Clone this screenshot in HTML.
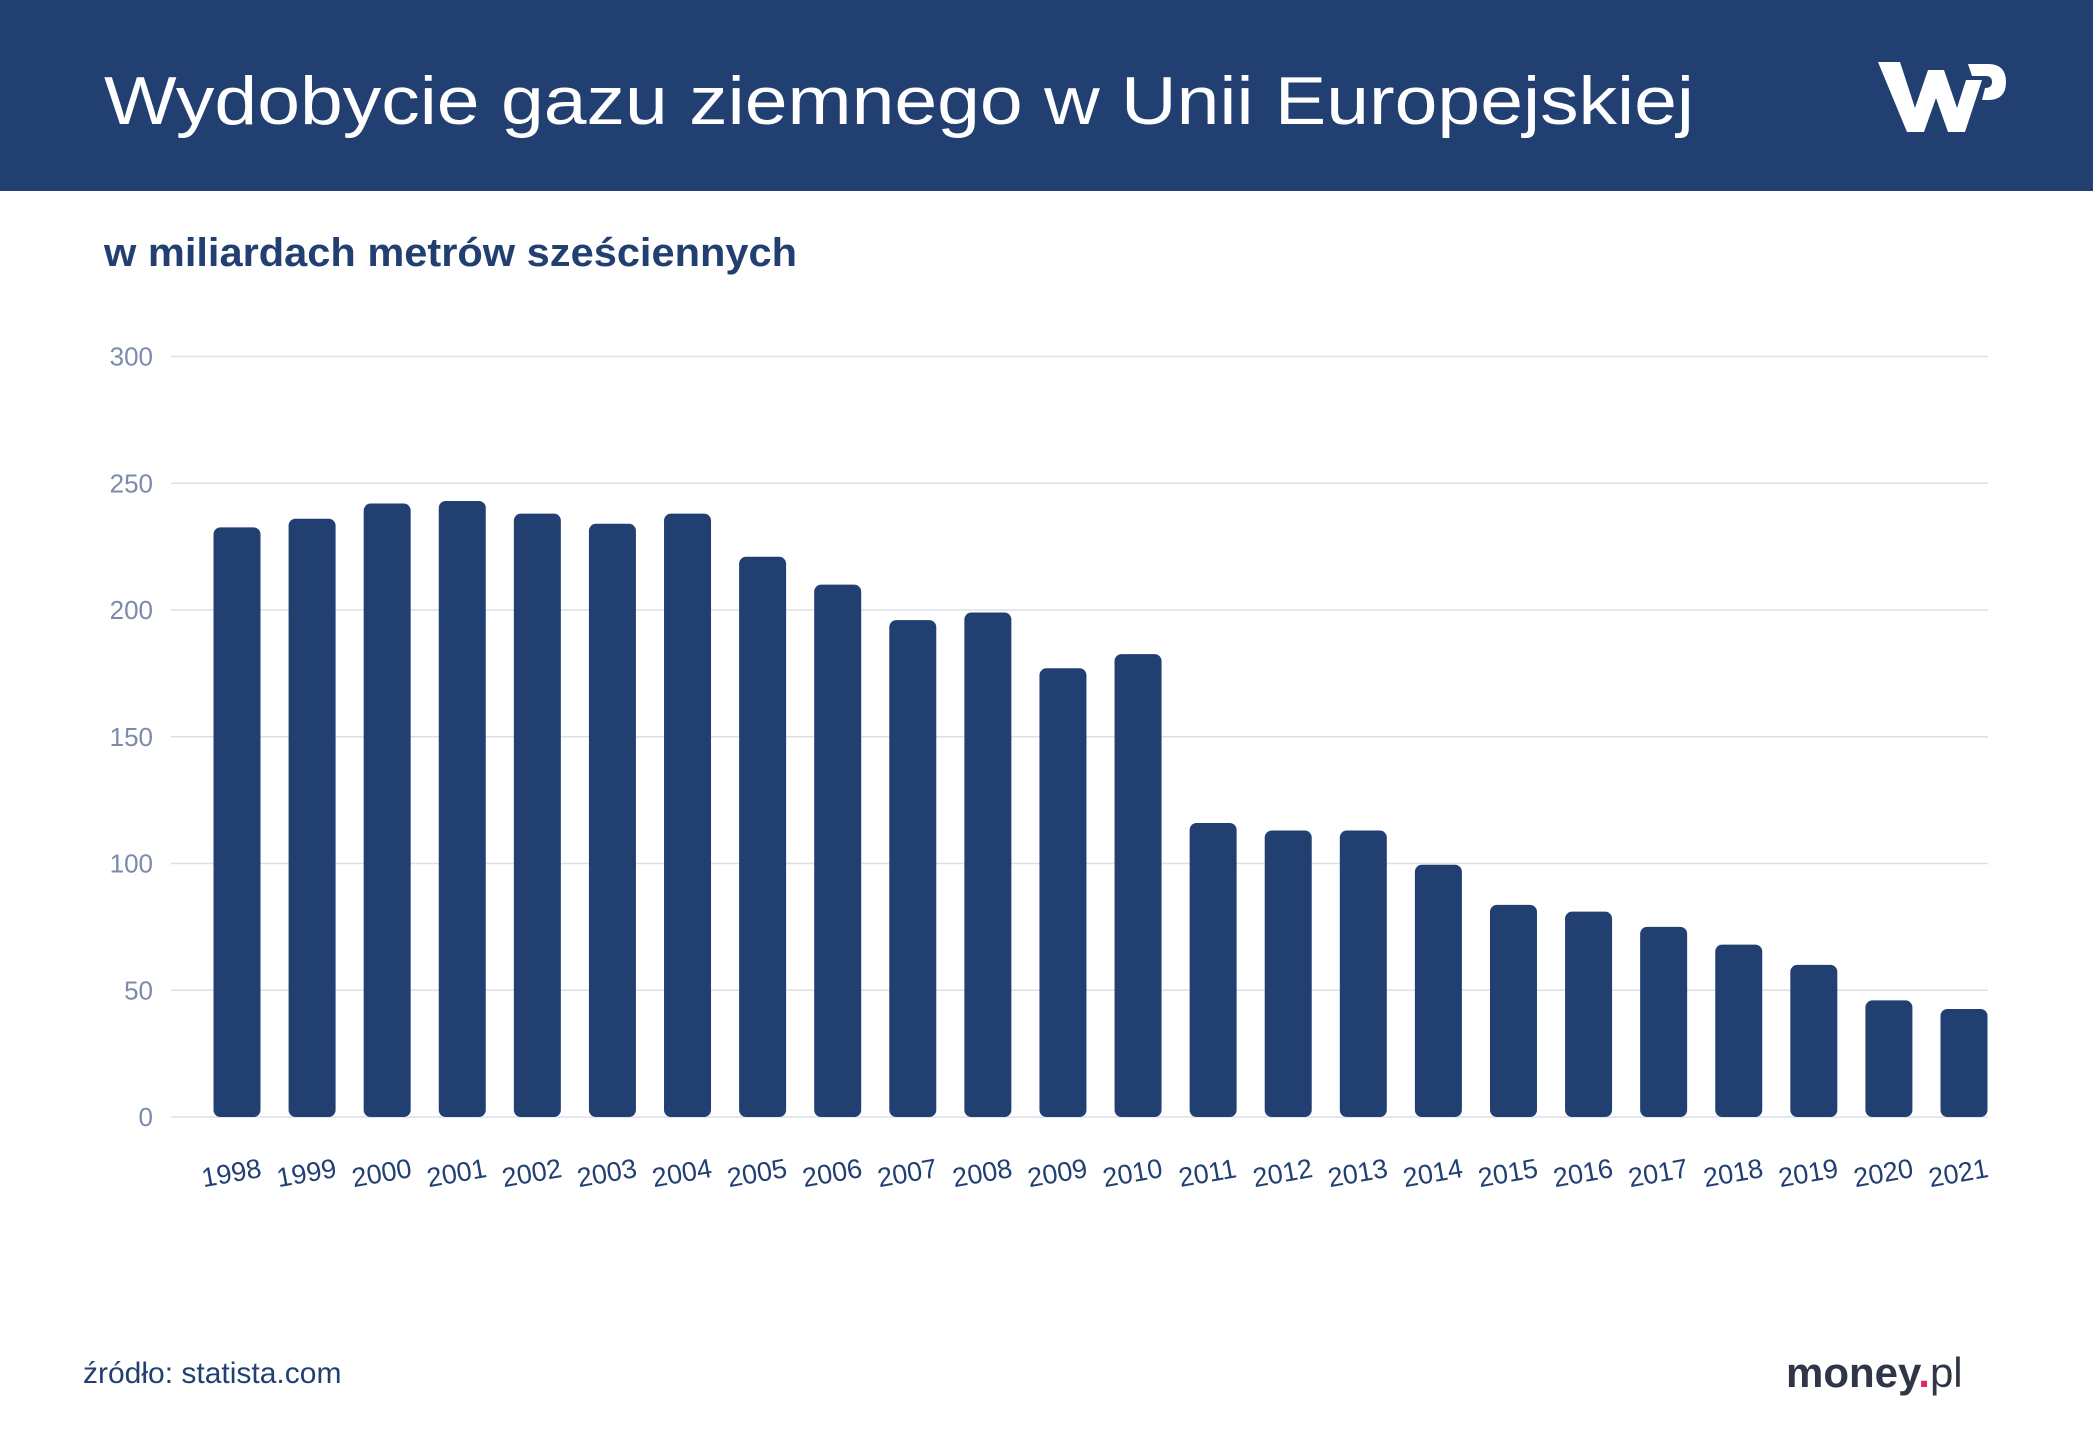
<!DOCTYPE html>
<html><head><meta charset="utf-8"><style>
body{margin:0;background:#fff;}
svg{display:block;font-family:"Liberation Sans",sans-serif;}
</style></head><body>
<svg width="2093" height="1440" viewBox="0 0 2093 1440" xmlns="http://www.w3.org/2000/svg">
<rect x="0" y="0" width="2093" height="191" fill="#223f72"/>
<text x="104" y="124" fill="#fff" font-size="68" textLength="1590" lengthAdjust="spacingAndGlyphs">Wydobycie gazu ziemnego w Unii Europejskiej</text>
<g fill="#fff">
<path d="M1878 62 L1900 62 L1915 108 L1928 70 L1944 70 L1957 108 L1966 80 L1982 80 L1965 132 L1948 132 L1936 98 L1924 132 L1907 132 Z"/>
<path d="M1968 64 L1988 64 Q2006 64 2006 82 Q2006 100 1988 100 L1982 100 L1985 88 Q1992 88 1992 82 Q1992 76 1986 76 L1972 76 Z"/>
</g>
<text x="104" y="266" fill="#223f72" font-size="40" font-weight="bold" textLength="693" lengthAdjust="spacingAndGlyphs">w miliardach metrów sześciennych</text>
<g id="grid"></g><g id="bars"></g><g id="xlabels"></g>
<text x="83" y="1383" fill="#223f72" font-size="30">źródło: statista.com</text>
<text x="1786" y="1387" fill="#2e3647" font-size="42" font-weight="bold">money<tspan fill="#e0245e">.</tspan><tspan font-weight="normal">pl</tspan></text>
</svg>
<script>
const years=["1998","1999","2000","2001","2002","2003","2004","2005","2006","2007","2008","2009","2010","2011","2012","2013","2014","2015","2016","2017","2018","2019","2020","2021"];
const values=[232.6,236,242,243,238,234,238,221,210,196,199,177,182.6,116,113,113,99.5,83.7,81,75,68,60,46,42.6];
const yTicks=[0,50,100,150,200,250,300];
const NS="http://www.w3.org/2000/svg";
const y0=1117,yTop=356.5,xL=171,xR=1988,yMax=300;
function ys(v){return y0-(v/yMax)*(y0-yTop);}
const first=237,last=1964;
function xs(i){return first+i*(last-first)/(years.length-1);}
const grid=document.getElementById('grid');
yTicks.forEach(t=>{
 const l=document.createElementNS(NS,'line');
 l.setAttribute('x1',xL);l.setAttribute('x2',xR);l.setAttribute('y1',ys(t));l.setAttribute('y2',ys(t));
 l.setAttribute('stroke','#dcdfe9');l.setAttribute('stroke-width','1.5');
 
 
 grid.appendChild(l);
 const tx=document.createElementNS(NS,'text');
 tx.setAttribute('x',153);tx.setAttribute('y',ys(t)+9);tx.setAttribute('text-anchor','end');
 tx.setAttribute('fill','#7c8aab');tx.setAttribute('font-size','26');
 tx.textContent=t;
 
 
 grid.appendChild(tx);
});
const bars=document.getElementById('bars'),xl=document.getElementById('xlabels');
const bw=47;
values.forEach((v,i)=>{
 const r=document.createElementNS(NS,'rect');
 r.setAttribute('x',xs(i)-bw/2);r.setAttribute('y',ys(v));r.setAttribute('width',bw);r.setAttribute('height',y0-ys(v));
 r.setAttribute('rx','7');r.setAttribute('fill','#223f72');
 
 
 bars.appendChild(r);
 const t=document.createElementNS(NS,'text');
 const cx=xs(i)-4,cy=1182;
 t.setAttribute('x',cx);t.setAttribute('y',cy);t.setAttribute('text-anchor','middle');
 t.setAttribute('fill','#223f72');t.setAttribute('font-size','27');
 t.setAttribute('transform','rotate(-10 '+cx+' '+cy+')');
 t.textContent=years[i];
 
 
 xl.appendChild(t);
});
</script>
</body></html>
